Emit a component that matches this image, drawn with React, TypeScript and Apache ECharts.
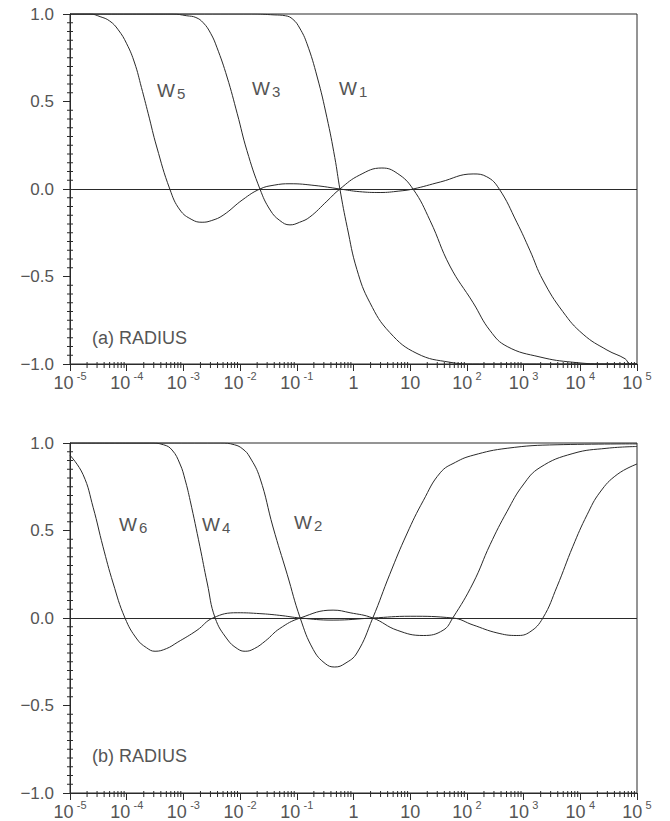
import React, { useEffect, useRef } from "react";
import * as echarts from "echarts";

// x values are log10(radius)
const decadeExps = [-5, -4, -3, -2, -1, 0, 1, 2, 3, 4, 5];
const yTicks = [-1, -0.5, 0, 0.5, 1];

// Panel (a)
const w1L = [-5, -1.8, -1.4, -1.2, -1.07, -0.95, -0.82, -0.64, -0.47, -0.33, -0.24, -0.11, 0.06, 0.29, 0.64, 1.12, 1.7, 2.1, 5];
const w1V = [1, 1, 0.995, 0.99, 0.97, 0.92, 0.83, 0.64, 0.41, 0.18, 0, -0.22, -0.46, -0.65, -0.82, -0.94, -0.99, -1, -1];

const w3L = [-5, -3.2, -2.94, -2.78, -2.65, -2.52, -2.41, -2.23, -2.05, -1.88, -1.65, -1.47, -1.3, -1.12, -0.95, -0.77, -0.47, -0.24, 0.11, 0.5, 0.77, 1.05, 1.35, 1.7, 2.11, 2.41, 2.71, 3.29, 3.87, 4.5, 5];
const w3V = [1, 1, 0.99, 0.98, 0.95, 0.89, 0.81, 0.64, 0.43, 0.22, 0, -0.12, -0.18, -0.205, -0.19, -0.16, -0.07, 0, 0.08, 0.12, 0.09, 0, -0.18, -0.44, -0.65, -0.81, -0.9, -0.96, -0.99, -1, -1];

const w5L = [-5, -4.65, -4.47, -4.3, -4.15, -4.0, -3.86, -3.74, -3.62, -3.47, -3.24, -3.06, -2.85, -2.67, -2.5, -2.3, -1.95, -1.65, -1.4, -1.12, -0.68, -0.24, 0.1, 0.47, 0.8, 1.05, 1.53, 2.11, 2.35, 2.57, 2.88, 3.11, 3.34, 3.69, 4.05, 4.47, 4.79, 4.88, 5];
const w5V = [1, 1, 0.985, 0.96, 0.91, 0.83, 0.72, 0.58, 0.43, 0.24, 0, -0.12, -0.175, -0.19, -0.18, -0.15, -0.06, 0, 0.022, 0.03, 0.02, 0, -0.015, -0.02, -0.012, 0, 0.04, 0.086, 0.07, 0, -0.19, -0.35, -0.52, -0.7, -0.83, -0.92, -0.97, -1, -1];

// Panel (b)
const w2L = [-5, -2.35, -2.1, -1.95, -1.83, -1.65, -1.42, -1.17, -0.94, -0.71, -0.5, -0.33, -0.15, 0.06, 0.34, 0.64, 0.94, 1.23, 1.53, 1.8, 2.11, 2.71, 3.59, 5];
const w2V = [1, 1, 0.99, 0.965, 0.92, 0.8, 0.52, 0.25, 0, -0.18, -0.26, -0.28, -0.26, -0.2, 0, 0.25, 0.48, 0.67, 0.83, 0.89, 0.93, 0.97, 0.99, 0.995];

const w4L = [-5, -3.59, -3.35, -3.2, -3.06, -2.97, -2.88, -2.71, -2.58, -2.44, -2.23, -2.05, -1.91, -1.75, -1.55, -1.3, -0.94, -0.36, -0.06, 0.34, 0.77, 1.23, 1.58, 1.75, 2.11, 2.41, 2.71, 2.99, 3.29, 3.87, 4.47, 5];
const w4V = [1, 1, 0.99, 0.96, 0.88, 0.79, 0.67, 0.41, 0.2, 0, -0.12, -0.175, -0.19, -0.175, -0.13, -0.06, 0, 0.045, 0.03, 0, -0.07, -0.1, -0.07, 0, 0.2, 0.42, 0.61, 0.76, 0.86, 0.94, 0.97, 0.98];

const w6L = [-5, -4.77, -4.59, -4.42, -4.24, -4.03, -3.82, -3.65, -3.5, -3.3, -3.11, -2.76, -2.48, -2.05, -1.65, -1.3, -0.94, -0.36, 0.34, 1.0, 1.75, 2.11, 2.53, 2.88, 3.11, 3.34, 3.59, 3.87, 4.12, 4.35, 4.65, 5];
const w6V = [0.93, 0.82, 0.63, 0.41, 0.2, 0, -0.12, -0.17, -0.19, -0.175, -0.14, -0.07, 0, 0.03, 0.025, 0.015, 0, -0.012, 0, 0.01, 0, -0.04, -0.085, -0.1, -0.08, 0, 0.18, 0.41, 0.59, 0.72, 0.82, 0.88];

// minor tick positions: log10 of 2..9 in each decade, and every 0.05 on y
const minorX: number[] = [];
for (let e = -5; e < 5; e++) for (let k = 2; k <= 9; k++) minorX.push(e + Math.log10(k));
const minorY: number[] = [];
for (let i = -20; i <= 20; i++) if (i % 10 !== 0) minorY.push(i * 0.05);

const zip = (a: number[], b: number[]) => a.map((x, i) => [x, b[i]]);

const FONT = "Liberation Sans";
const TXT = "#555555";
const LINE = "#2a2a2a";

function xLabel(v: number) {
  const e = Math.round(v);
  if (e === 0) return "{b|1}";
  if (e === 1) return "{b|10}";
  return "{b|10} {s|" + (e < 0 ? "-" + -e : String(e)) + "}";
}

function yLabel(v: number) {
  const s = Math.abs(v).toFixed(1);
  return v < 0 ? "\u2212" + s : s;
}

export default function App() {
  const ref = useRef<HTMLDivElement>(null);
  useEffect(() => {
    document.body.style.margin = "0";
    const chart = echarts.init(ref.current!, undefined, { renderer: "svg" });
    const grids = [
      { left: 70, top: 14, width: 567, height: 350 },
      { left: 70, top: 443, width: 567, height: 354 },
    ];
    const xAxes: any[] = [];
    const yAxes: any[] = [];
    const series: any[] = [];
    grids.forEach((_, gi) => {
      xAxes.push({
        type: "value", gridIndex: gi, min: -5, max: 5, interval: 1, position: "bottom",
        axisLine: { show: true, onZero: false, lineStyle: { color: LINE, width: 1 } },
        axisTick: { show: true, length: 7, lineStyle: { color: LINE } },
        splitLine: { show: false },
        axisLabel: {
          margin: 6, formatter: xLabel, color: TXT, fontFamily: FONT,
          rich: {
            b: { fontSize: 18, lineHeight: 22, color: TXT, fontFamily: FONT, verticalAlign: "bottom" },
            s: { fontSize: 11, lineHeight: 12, color: TXT, fontFamily: FONT, verticalAlign: "top" },
          },
        },
      });
      yAxes.push({
        type: "value", gridIndex: gi, min: -1, max: 1, interval: 0.5, position: "left",
        axisLine: { show: true, onZero: false, lineStyle: { color: LINE, width: 1 } },
        axisTick: { show: true, length: 7, lineStyle: { color: LINE } },
        splitLine: { show: false },
        axisLabel: { margin: 16, formatter: yLabel, fontSize: 17, color: TXT, fontFamily: FONT },
      });
      // minor log ticks along the bottom axis
      series.push({
        type: "custom", xAxisIndex: gi, yAxisIndex: gi, silent: true, clip: false, z: 5,
        data: minorX.map((x) => [x, -1]),
        renderItem: (params: any, api: any) => {
          const p = api.coord([api.value(0), api.value(1)]);
          return {
            type: "line",
            shape: { x1: p[0], y1: p[1] - 2, x2: p[0], y2: p[1] + 4 },
            style: { stroke: LINE, lineWidth: 1 },
          };
        },
      });
      // minor ticks along the left axis
      series.push({
        type: "custom", xAxisIndex: gi, yAxisIndex: gi, silent: true, clip: false, z: 5,
        data: minorY.map((y) => [-5, y]),
        renderItem: (params: any, api: any) => {
          const p = api.coord([api.value(0), api.value(1)]);
          return {
            type: "line",
            shape: { x1: p[0] - 3, y1: p[1], x2: p[0] + 3, y2: p[1] },
            style: { stroke: LINE, lineWidth: 1 },
          };
        },
      });
    });
    const mk = (name: string, L: number[], V: number[], gi: number, zero = false) => ({
      type: "line", name, xAxisIndex: gi, yAxisIndex: gi, data: zip(L, V),
      showSymbol: false, symbol: "none", smooth: 0.45,
      lineStyle: { color: LINE, width: 1 }, silent: true,
      markLine: zero ? {
        silent: true, symbol: ["none", "none"], label: { show: false },
        lineStyle: { color: LINE, width: 1, type: "solid" }, data: [{ yAxis: 0 }],
      } : undefined,
    });
    series.push(
      mk("W1", w1L, w1V, 0, true),
      mk("W3", w3L, w3V, 0),
      mk("W5", w5L, w5V, 0),
      mk("W2", w2L, w2V, 1, true),
      mk("W4", w4L, w4V, 1),
      mk("W6", w6L, w6V, 1),
    );
    const wLabel = (name: string, sub: string, x: number, y: number) => ([
      { type: "text", x, y, style: { text: name, fontSize: 19, fontFamily: FONT, fill: TXT } },
      { type: "text", x: x + 20, y: y + 5, style: { text: sub, fontSize: 15, fontFamily: FONT, fill: TXT } },
    ]);
    chart.setOption({
      animation: false,
      backgroundColor: "#fff",
      grid: grids.map((g) => ({ ...g, show: true, borderColor: LINE, borderWidth: 1, backgroundColor: "transparent" })),
      xAxis: xAxes,
      yAxis: yAxes,
      series,
      graphic: [
        ...wLabel("W", "5", 157, 81),
        ...wLabel("W", "3", 252, 79),
        ...wLabel("W", "1", 339, 79),
        ...wLabel("W", "6", 119, 515),
        ...wLabel("W", "4", 202, 515),
        ...wLabel("W", "2", 294, 513),
        { type: "text", x: 92, y: 329, style: { text: "(a) RADIUS", fontSize: 18, fontFamily: FONT, fill: TXT } },
        { type: "text", x: 92, y: 747, style: { text: "(b) RADIUS", fontSize: 18, fontFamily: FONT, fill: TXT } },
      ],
    });
    return () => chart.dispose();
  }, []);
  return <div ref={ref} style={{ width: 670, height: 821 }} />;
}
